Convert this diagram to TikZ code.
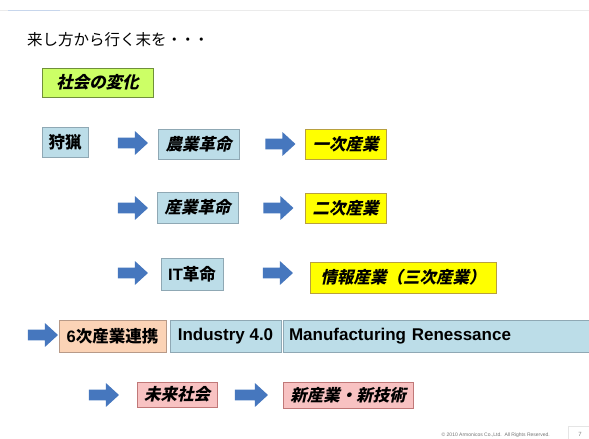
\documentclass[tikz,border=0pt]{standalone}
\usepackage{fontspec}
\setmainfont{Liberation Sans}
\newfontfamily\jp{Noto Sans CJK JP}
\newfontfamily\jpi{Noto Sans CJK JP}[FakeSlant=0.22]
\usetikzlibrary{shapes.arrows}
\definecolor{lblue}{HTML}{BCDDE8}
\definecolor{lblueb}{HTML}{8FA8B4}
\definecolor{yel}{HTML}{FFFF00}
\definecolor{yelb}{HTML}{B8A040}
\definecolor{grn}{HTML}{CCFF66}
\definecolor{grnb}{HTML}{70903A}
\definecolor{peach}{HTML}{FBD3B6}
\definecolor{peachb}{HTML}{B89A88}
\definecolor{pinkf}{HTML}{F8C2C2}
\definecolor{pinkb}{HTML}{C07878}
\definecolor{arrowc}{HTML}{4677BE}
\tikzset{
  x=1pt, y=-1pt,
  box/.style={draw=lblueb, fill=lblue, line width=1pt, inner sep=0pt, font=\jp\bfseries\fontsize{16.5}{18}\selectfont},
  ibox/.style={box, font=\jpi\bfseries\fontsize{16.5}{18}\selectfont},
  yelbox/.style={ibox, fill=yel, draw=yelb},
  grnbox/.style={ibox, fill=grn, draw=grnb},
  peachbox/.style={box, fill=peach, draw=peachb},
  pinkbox/.style={ibox, fill=pinkf, draw=pinkb},
  barrow/.style={single arrow, fill=arrowc, draw=none, inner sep=0pt, minimum height=30pt, minimum width=23pt, single arrow head extend=6.5pt, single arrow tip angle=85},
}
\newcommand{\shaft}{\rule{0pt}{10.5pt}}
\begin{document}
\begin{tikzpicture}
\useasboundingbox (0,0) rectangle (589,439);
\fill[white] (0,0) rectangle (589,439);
\draw[black!8, line width=0.8pt] (0,10) -- (589,10);
\draw[arrowc!30, line width=0.8pt] (8,10) -- (60,10);
% title
\node[anchor=west, inner sep=0pt, font=\jp\fontsize{15.5}{17}\selectfont] (title) at (27,40) {来し方から行く末を・\kern-2pt・\kern-2pt・};
\node[grnbox, minimum width=111pt, minimum height=29pt] (shakai) at (97.5,82.5) {社会の変化};
% row 1
\node[box, minimum width=46pt, minimum height=30pt] (shuryo) at (65,142) {狩猟};
\node[barrow] (a1) at (130,143) {\shaft};
\node[ibox, minimum width=81pt, minimum height=30pt] (nogyo) at (198.5,144) {農業革命};
\node[barrow] (a2) at (277.5,144) {\shaft};
\node[yelbox, minimum width=81pt, minimum height=30pt] (ichiji) at (345.5,144) {一次産業};
% row 2
\node[barrow] (a3) at (130,208) {\shaft};
\node[ibox, minimum width=81pt, minimum height=31pt] (sangyo) at (197.5,207.5) {産業革命};
\node[barrow] (a4) at (275.5,208) {\shaft};
\node[yelbox, minimum width=81pt, minimum height=30pt] (niji) at (345.5,208) {二次産業};
% row 3
\node[barrow] (a5) at (130,273) {\shaft};
\node[box, minimum width=62pt, minimum height=32pt] (it) at (192,274) {\fontspec{Liberation Sans}\bfseries IT\jp\bfseries 革命};
\node[barrow] (a6) at (275,273) {\shaft};
\node[yelbox, minimum width=186pt, minimum height=31pt] (joho) at (403,277.5) {情報産業（三次産業）};
% row 4
\node[barrow] (a7) at (40,335) {\shaft};
\node[peachbox, minimum width=107pt, minimum height=32pt] (roku) at (112.5,336) {\fontspec{Liberation Sans}\bfseries 6\jp\bfseries 次産業連携};
\node[box, minimum width=111pt, minimum height=32pt, font=\bfseries\fontsize{17}{19}\selectfont] (ind) at (225.5,336) {Industry 4.0};
\node[box, minimum width=312pt, minimum height=32pt, font=\bfseries\fontsize{17}{19}\selectfont, text width=300pt, align=left] (manu) at (439,336) {Manufacturing Renessance};
% row 5
\node[barrow] (a8) at (101,395) {\shaft};
\node[pinkbox, minimum width=80pt, minimum height=25pt] (mirai) at (177,394.5) {未来社会};
\node[barrow, minimum height=33pt] (a9) at (248.5,395) {\shaft};
\node[pinkbox, minimum width=130pt, minimum height=26pt] (shin) at (348,395) {新産業・新技術};
% footer
\node[anchor=east, inner sep=0pt, text=black!55, font=\fontsize{5}{6}\selectfont] (copy) at (550,435) {© 2010 Armonicos Co.,Ltd.~~All Rights Reserved.};
\draw[black!10, line width=0.6pt] (568,439) -- (568,426) -- (589,426);
\node[inner sep=0pt, text=black!50, font=\fontsize{6}{7}\selectfont] (pg) at (580,434) {7};
\end{tikzpicture}
\end{document}
